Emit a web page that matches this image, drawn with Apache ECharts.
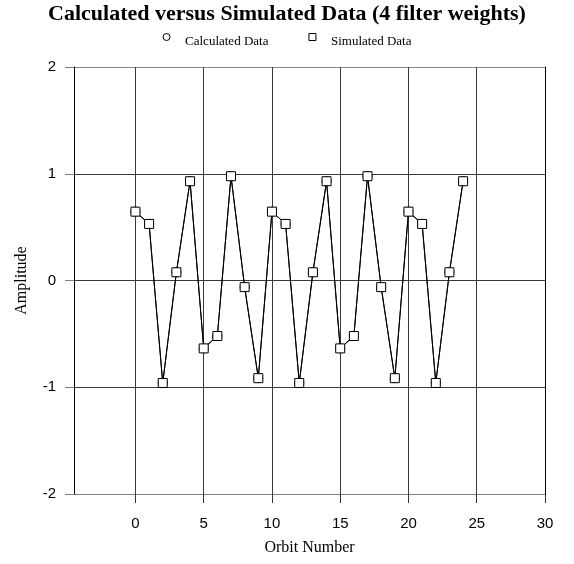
<!DOCTYPE html>
<html><head><meta charset="utf-8">
<script src="https://cdn.jsdelivr.net/npm/echarts@6/dist/echarts.min.js"></script>
<style>html,body{margin:0;padding:0;background:#fff}#c{width:574px;height:564px}</style>
</head><body><div id="c"></div>
<script>
const orbit = [0,1,2,3,4,5,6,7,8,9,10,11,12,13,14,15,16,17,18,19,20,21,22,23,24];
const calculated = [0.645,0.53,-0.96,0.077,0.93,-0.636,-0.52,0.977,-0.062,-0.915,0.645,0.53,-0.96,0.077,0.93,-0.636,-0.52,0.977,-0.062,-0.915,0.645,0.53,-0.96,0.077,0.93];
const simulated = [0.645,0.53,-0.96,0.077,0.93,-0.636,-0.52,0.977,-0.062,-0.915,0.645,0.53,-0.96,0.077,0.93,-0.636,-0.52,0.977,-0.062,-0.915,0.645,0.53,-0.96,0.077,0.93];
const xTicks = [0,5,10,15,20,25,30];
const yTicks = [-2,-1,0,1,2];

const chart = echarts.init(document.getElementById('c'), null, {renderer:'canvas'});
const serif = '"Liberation Serif","Times New Roman",serif';
const sans = '"Liberation Sans",Arial,sans-serif';
chart.setOption({
  animation:false,
  backgroundColor:'#fff',
  title:{text:'Calculated versus Simulated Data (4 filter weights)',left:'center',top:3,padding:0,
    textStyle:{fontFamily:serif,fontWeight:'bold',fontSize:22,color:'#000'}},
  legend:{top:28,left:'center',itemWidth:7,itemHeight:7,itemGap:40,
    itemStyle:{color:'#fff',borderColor:'#000',borderWidth:1},
    formatter:'{a|{name}}',
    textStyle:{fontFamily:serif,fontSize:13,color:'#000',
      rich:{a:{fontFamily:serif,fontSize:13,color:'#000',padding:[10,0,0,10]}}},
    data:[{name:'Calculated Data',icon:'circle'},{name:'Simulated Data',icon:'rect'}]},
  grid:{left:74,right:29,top:67,bottom:70,containLabel:false},
  xAxis:[{type:'value',min:-4.5,max:30,
    name:'Orbit Number',nameLocation:'middle',nameGap:46,
    nameTextStyle:{fontFamily:serif,fontSize:16,color:'#000'},
    axisLine:{show:true,onZero:false,lineStyle:{color:'#808080',width:1}},
    axisTick:{show:true,length:9,customValues:xTicks,lineStyle:{color:'#333'}},
    axisLabel:{customValues:xTicks,margin:22,fontFamily:sans,fontSize:15,color:'#000'},
    splitLine:{show:true,customValues:xTicks,lineStyle:{color:'#3a3a3a',width:1}}
  }],
  yAxis:[{type:'value',min:-2,max:2,interval:1,
    name:'Amplitude',nameLocation:'middle',nameGap:44,
    nameTextStyle:{fontFamily:serif,fontSize:16,color:'#000'},
    axisLine:{show:true,onZero:false,lineStyle:{color:'#000',width:1}},
    axisTick:{show:true,length:9,lineStyle:{color:'#808080'}},
    axisLabel:{margin:18,fontFamily:sans,fontSize:15,color:'#000'},
    splitLine:{show:true,lineStyle:{color:['#888','#3a3a3a','#3a3a3a','#3a3a3a','#888'],width:1}}
  },{type:'value',min:-2,max:2,interval:1,position:'right',
    axisLine:{show:true,onZero:false,lineStyle:{color:'#000',width:1}},
    axisTick:{show:false},axisLabel:{show:false},splitLine:{show:false}}],
  series:[
    {name:'Calculated Data',type:'line',symbol:'circle',symbolSize:9,
      data:orbit.map((x,i)=>[x,calculated[i]]),
      lineStyle:{color:'#000',width:1},
      itemStyle:{color:'#fff',borderColor:'#000',borderWidth:1},z:2},
    {name:'Simulated Data',type:'line',symbol:'rect',symbolSize:9,
      data:orbit.map((x,i)=>[x,simulated[i]]),
      lineStyle:{color:'#000',width:1},
      itemStyle:{color:'#fff',borderColor:'#000',borderWidth:1},z:3}
  ]
});
</script></body></html>
